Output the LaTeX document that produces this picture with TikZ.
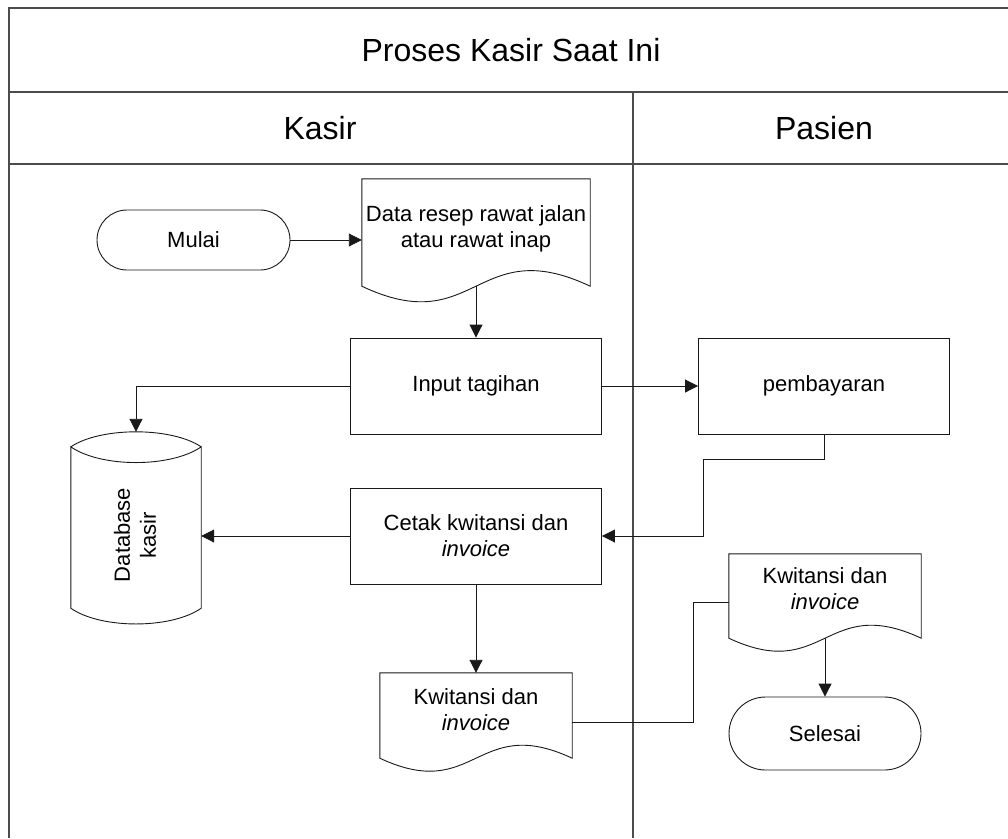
\documentclass[tikz,border=0pt]{standalone}
\usepackage{fontspec}
\setmainfont{Liberation Sans}
\usetikzlibrary{arrows.meta,calc}

% document symbol: straight top and sides, wavy bottom edge
% #1 node, #2 drop of the bottom corners below the node, #3 wave control offset
\newcommand\docpath[3]{%
  \draw[line] (#1.north west) -- ([yshift=-#2]#1.south west)
    .. controls ([yshift=-#2-#3]#1.south) and ([yshift=-#2+#3]#1.south)
    .. ([yshift=-#2]#1.south east) -- (#1.north east) -- cycle;}

\begin{document}
\begin{tikzpicture}[x=1pt,y=-1pt,
  line/.style={draw=black!90, line width=0.9pt},
  flow/.style={line, -{Triangle[length=13pt,width=13pt]}},
  lane/.style={draw=black!70, line width=1.3pt},
  body/.style={font=\fontsize{22}{26}\selectfont, align=center},
  head/.style={font=\fontsize{32}{38}\selectfont},
  proc/.style={body, rectangle, line, minimum width=251pt, minimum height=96pt, inner sep=0pt},
  terminal/.style={body, rectangle, line, minimum width=193pt, inner sep=0pt},
  docbody/.style={body, rectangle, inner sep=0pt},
]
\useasboundingbox (0,0) rectangle (1008,838);

% swimlane frame
\draw[lane] (1008,8) -- (9,8) -- (9,838);
\draw[lane] (9,92) -- (1008,92);
\draw[lane] (9,164) -- (1008,164);
\draw[lane] (633,92) -- (633,838);

\node[head] (title) at (511,50) {Proses Kasir Saat Ini};
\node[head] (kasir) at (320,128) {Kasir};
\node[head] (pasien) at (824,128) {Pasien};

% flow elements
\node[terminal, minimum height=60pt, rounded corners=30pt] (mulai) at (193.5,240) {Mulai};
\node[docbody, minimum width=228pt, minimum height=100pt] (resep) at (476,229)
  {Data resep rawat jalan\\atau rawat inap};
\docpath{resep}{7pt}{54pt}

\node[proc] (input) at (476,386) {Input tagihan};
\node[proc] (bayar) at (824,386) {pembayaran};
\node[proc] (cetak) at (476,536) {Cetak kwitansi dan\\\textit{invoice}};

\node[docbody, minimum width=192pt, minimum height=73pt] (kw1) at (476,709.5)
  {Kwitansi dan\\\textit{invoice}};
\docpath{kw1}{12pt}{45pt}

\node[docbody, minimum width=192pt, minimum height=70pt] (kw2) at (825,589)
  {Kwitansi dan\\\textit{invoice}};
\docpath{kw2}{14pt}{45pt}

\node[terminal, minimum width=192pt, minimum height=73pt, rounded corners=36.5pt] (selesai) at (825,733.5) {Selesai};

% database (stored data cylinder)
\node[minimum width=130pt, minimum height=192pt, inner sep=0pt] (db) at (136,528) {};
\coordinate (dbA) at ([yshift=-15pt]db.north west);
\coordinate (dbB) at ([yshift=-15pt]db.north east);
\coordinate (dbC) at ([yshift=16pt]db.south east);
\coordinate (dbD) at ([yshift=16pt]db.south west);
\draw[line] (dbA) .. controls +(30,-20) and +(-30,-20) .. (dbB)
  .. controls +(-30,21) and +(30,21) .. (dbA) -- (dbD)
  .. controls +(30,21) and +(-30,21) .. (dbC) -- (dbB);
\node[body, rotate=90] (dbtext) at (135,535) {Database\\kasir};

% connectors
\draw[flow] (mulai.east) -- (mulai.east -| resep.west);
\draw[flow] ([yshift=-7pt]resep.south) -- (input.north);
\draw[flow] (input.west) -| (db.north);
\draw[flow] (input.east) -- (bayar.west);
\draw[flow] (bayar.south) -- ++(0,25) -| ([xshift=101pt]cetak.east) -- (cetak.east);
\draw[flow] (cetak.west) -- (cetak.west -| db.east);
\draw[flow] (cetak.south) -- (kw1.north);
\draw[line] ([yshift=-12.5pt]kw1.east) -- ++(121,0) |- ([yshift=-13pt]kw2.west);
\draw[flow] ([yshift=-14pt]kw2.south) -- (selesai.north);
\end{tikzpicture}
\end{document}
